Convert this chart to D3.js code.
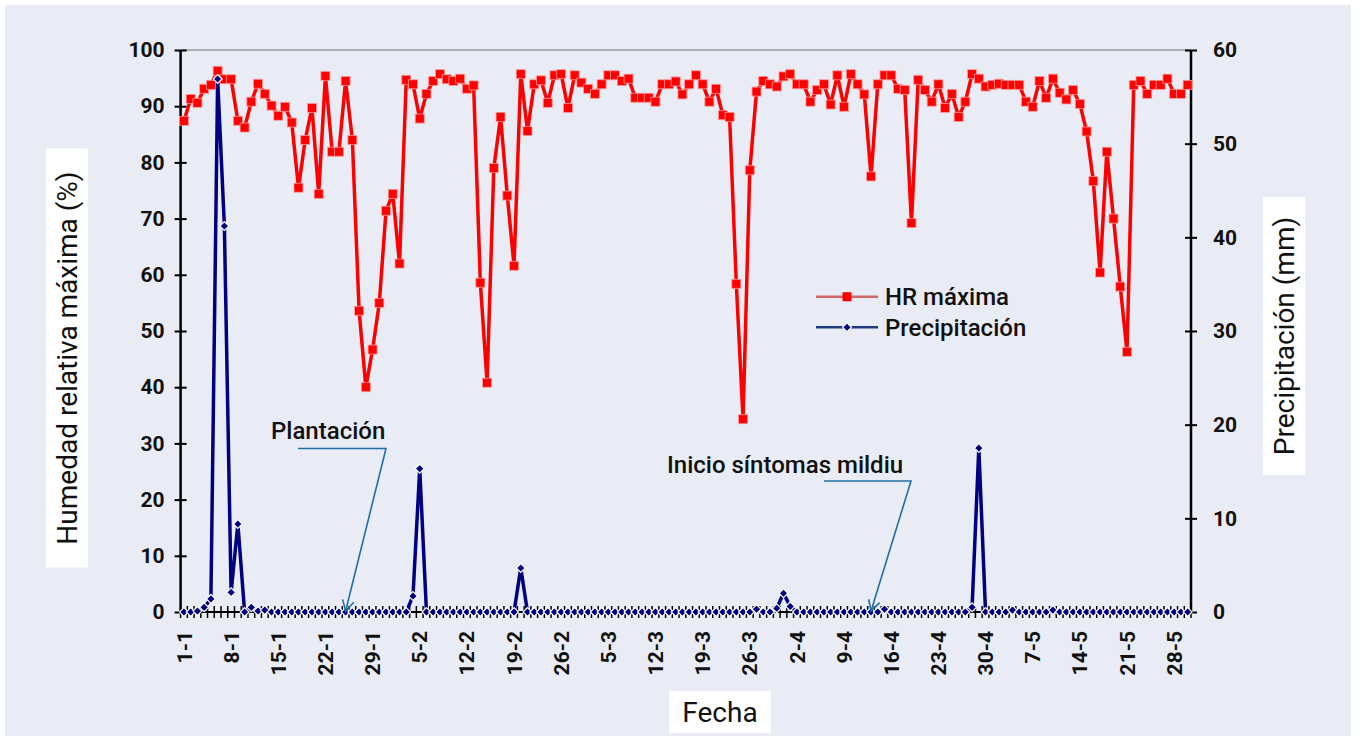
<!DOCTYPE html>
<html>
<head>
<meta charset="utf-8">
<script src="https://cdn.jsdelivr.net/npm/d3@7"></script>
<style>
  body { margin: 0; background: #fff; }
  text { font-family: Roboto, "DejaVu Sans", sans-serif; fill: #111; }
</style>
</head>
<body>
<svg id="chart" width="1359" height="740"></svg>
<script>
// daily categories, 1-1 to 30-5
const days = d3.timeDay.range(new Date(2023, 0, 1), new Date(2023, 4, 31))
const fmt = d3.timeFormat('%-d-%-m')
const categories = days.map(fmt)

const tickLabels = ['1-1', '8-1', '15-1', '22-1', '29-1', '5-2', '12-2', '19-2', '26-2', '5-3', '12-3',
  '19-3', '26-3', '2-4', '9-4', '16-4', '23-4', '30-4', '7-5', '14-5', '21-5', '28-5']

// HR máxima (%)
const hrMax = [
  87.4, 91.3, 90.6, 93.1, 93.8, 96.3, 94.8, 94.8, 87.4, 86.2,
  90.8, 94.0, 92.2, 90.1, 88.3, 89.9, 87.1, 75.5, 84.0, 89.7,
  74.4, 95.4, 81.9, 81.9, 94.5, 84.0, 53.6, 40.0, 46.7, 55.0,
  71.4, 74.4, 62.0, 94.7, 93.9, 87.8, 92.2, 94.5, 95.7, 94.8,
  94.5, 94.9, 93.1, 93.7, 58.6, 40.8, 79.0, 88.1, 74.1, 61.6,
  95.7, 85.6, 93.9, 94.6, 90.6, 95.5, 95.7, 89.7, 95.5, 94.2,
  93.1, 92.2, 93.9, 95.5, 95.5, 94.5, 94.9, 91.5, 91.5, 91.5,
  90.8, 93.9, 93.9, 94.4, 92.1, 93.9, 95.5, 93.9, 90.8, 93.1,
  88.4, 88.1, 58.4, 34.3, 78.6, 92.6, 94.5, 93.9, 93.5, 95.3,
  95.7, 93.9, 93.9, 90.8, 92.9, 93.9, 90.3, 95.5, 89.9, 95.7,
  93.9, 92.1, 77.5, 93.9, 95.5, 95.5, 93.1, 92.9, 69.2, 94.7,
  92.9, 90.8, 93.9, 89.7, 92.2, 88.1, 90.8, 95.7, 94.9, 93.5,
  93.8, 94.0, 93.8, 93.8, 93.8, 90.8, 89.9, 94.5, 91.5, 94.9,
  92.4, 91.2, 92.9, 90.4, 85.5, 76.7, 60.4, 81.9, 70.0, 57.9,
  46.3, 93.8, 94.5, 92.2, 93.8, 93.8, 94.9, 92.2, 92.2, 93.8
]

// Precipitación (mm)
const precip = [
  0, 0, 0.1, 0.5, 1.4, 56.9, 41.2, 2.1, 9.4, 0,
  0.5, 0.1, 0.2, 0, 0, 0, 0, 0, 0, 0,
  0, 0, 0, 0, 0, 0, 0, 0, 0, 0,
  0, 0, 0, 0, 1.7, 15.3, 0, 0, 0, 0,
  0, 0, 0, 0, 0, 0, 0, 0, 0, 0,
  4.7, 0, 0, 0, 0, 0, 0, 0, 0, 0,
  0, 0, 0, 0, 0, 0, 0, 0, 0, 0,
  0, 0, 0, 0, 0, 0, 0, 0, 0, 0,
  0, 0, 0, 0, 0, 0.3, 0, 0, 0.4, 2.0,
  0.6, 0, 0, 0, 0, 0, 0, 0, 0, 0,
  0, 0, 0, 0, 0.3, 0, 0, 0, 0, 0,
  0, 0, 0, 0, 0, 0, 0, 0.5, 17.5, 0,
  0, 0, 0, 0.2, 0, 0, 0, 0, 0, 0.2,
  0, 0, 0, 0, 0, 0, 0, 0, 0, 0,
  0, 0, 0, 0, 0, 0, 0, 0, 0, 0
]

const hrTicks = d3.range(0, 101, 10)
const precipTicks = d3.range(0, 61, 10)

const svg = d3.select('#chart')
const plot = { left: 180.6, right: 1191, top: 50, bottom: 612 }

const x = d3.scaleBand()
  .domain(d3.range(categories.length))
  .range([plot.left, plot.right])
const cx = i => x(i) + x.bandwidth() / 2
const yL = d3.scaleLinear().domain([0, 100]).range([plot.bottom, plot.top])
const yR = d3.scaleLinear().domain([0, 60]).range([plot.bottom, plot.top])

// background
svg.append('rect')
  .attr('x', 5).attr('y', 5)
  .attr('width', 1346).attr('height', 731)
  .attr('fill', '#e9ecf4')

// top border of plot
svg.append('line')
  .attr('x1', plot.left).attr('x2', plot.right)
  .attr('y1', plot.top).attr('y2', plot.top)
  .attr('stroke', '#9a9a9a').attr('stroke-width', 1.5)

// left axis
const gL = svg.append('g')
  .attr('transform', `translate(${plot.left},0)`)
  .call(d3.axisLeft(yL).tickValues(hrTicks).tickSize(6).tickPadding(10))
gL.select('.domain').attr('stroke', '#000').attr('stroke-width', 2.5).attr('d', `M0,${plot.top}V${plot.bottom}`)
gL.selectAll('.tick line').attr('x1', 6).attr('x2', -6).attr('stroke', '#000').attr('stroke-width', 2)
gL.selectAll('.tick text')
  .attr('x', -16)
  .style('font-size', '21px').style('font-weight', 700).style('font-family', 'Roboto')

// right axis
const gR = svg.append('g')
  .attr('transform', `translate(${plot.right},0)`)
  .call(d3.axisRight(yR).tickValues(precipTicks).tickSize(6))
gR.select('.domain').attr('stroke', '#000').attr('stroke-width', 2.5).attr('d', `M0,${plot.top}V${plot.bottom}`)
gR.selectAll('.tick line').attr('x1', -6).attr('x2', 6).attr('stroke', '#000').attr('stroke-width', 2)
gR.selectAll('.tick text')
  .attr('x', 22)
  .style('font-size', '21px').style('font-weight', 700).style('font-family', 'Roboto')

// x axis: line, crossing ticks at category edges, rotated date labels
const gX = svg.append('g').attr('transform', `translate(0,${plot.bottom})`)
gX.append('line')
  .attr('x1', plot.left).attr('x2', plot.right)
  .attr('stroke', '#000').attr('stroke-width', 2)
gX.selectAll('line.edge')
  .data(d3.range(categories.length + 1))
  .join('line')
  .attr('class', 'edge')
  .attr('x1', i => i < categories.length ? x(i) : plot.right)
  .attr('x2', i => i < categories.length ? x(i) : plot.right)
  .attr('y1', -6).attr('y2', 6)
  .attr('stroke', '#000').attr('stroke-width', 1.5)

const gXL = svg.append('g')
  .attr('transform', `translate(0,${plot.bottom})`)
  .call(d3.axisBottom(x)
    .tickValues(tickLabels.map(l => categories.indexOf(l)))
    .tickFormat(i => categories[i])
    .tickSize(0))
gXL.select('.domain').remove()
gXL.selectAll('.tick text')
  .attr('transform', 'rotate(-90)')
  .attr('x', -19).attr('y', 0).attr('dy', '0.36em')
  .attr('text-anchor', 'end')
  .style('font-size', '21px').style('font-weight', 700).style('font-family', 'Roboto')

// HR line + square markers
const hrLine = d3.line().x((d, i) => cx(i)).y(d => yL(d))
svg.append('path')
  .datum(hrMax)
  .attr('d', hrLine)
  .attr('fill', 'none').attr('stroke', '#ff0000').attr('stroke-width', 3.5)
  .attr('stroke-linejoin', 'round')
svg.append('g').selectAll('rect')
  .data(hrMax)
  .join('rect')
  .attr('x', (d, i) => cx(i) - 4.5).attr('y', d => yL(d) - 4.5)
  .attr('width', 9).attr('height', 9)
  .attr('fill', '#ff0000').attr('stroke', '#ff9a9a').attr('stroke-width', 0.8)

// precipitation line + diamond markers
const pLine = d3.line().x((d, i) => cx(i)).y(d => yR(d))
svg.append('path')
  .datum(precip)
  .attr('d', pLine)
  .attr('fill', 'none').attr('stroke', '#000080').attr('stroke-width', 3.5)
  .attr('stroke-linejoin', 'round')
const diamond = d3.symbol().type(d3.symbolDiamond2).size(50)
svg.append('g').selectAll('path')
  .data(precip)
  .join('path')
  .attr('d', diamond)
  .attr('transform', (d, i) => `translate(${cx(i)},${yR(d)})`)
  .attr('fill', '#000080').attr('stroke', '#fff').attr('stroke-width', 1.2)

// legend
const legend = [
  { label: 'HR máxima', line: '#d06868', fill: '#ff0000', shape: 'square', y: 296.7 },
  { label: 'Precipitación', line: '#1f3a7a', fill: '#000080', shape: 'diamond', y: 327.3 }
]
const gLeg = svg.append('g')
legend.forEach(l => {
  gLeg.append('line')
    .attr('x1', 816).attr('x2', 878).attr('y1', l.y).attr('y2', l.y)
    .attr('stroke', l.line).attr('stroke-width', 2.5)
  if (l.shape === 'square') {
    gLeg.append('rect')
      .attr('x', 847 - 4.5).attr('y', l.y - 4.5).attr('width', 9).attr('height', 9)
      .attr('fill', l.fill)
  } else {
    gLeg.append('path')
      .attr('d', diamond)
      .attr('transform', `translate(847,${l.y})`)
      .attr('fill', l.fill).attr('stroke', '#fff').attr('stroke-width', 1.2)
  }
  gLeg.append('text')
    .attr('x', 885).attr('y', l.y).attr('dy', '0.36em')
    .style('font-size', '24px').style('font-weight', 500)
    .text(l.label)
})

// annotations
const arrowColor = '#1f6ea6'
function annotate (label, textX, textY, lineX1, lineX2, lineY, targetIdx) {
  svg.append('text')
    .attr('x', textX).attr('y', textY)
    .style('font-size', '24px').style('font-weight', 500)
    .text(label)
  const tx = cx(targetIdx)
  const ty = plot.bottom - 1
  svg.append('path')
    .attr('d', `M${lineX1},${lineY}H${lineX2}L${tx},${ty}`)
    .attr('fill', 'none').attr('stroke', arrowColor).attr('stroke-width', 1.6)
  const ang = Math.atan2(ty - lineY, tx - lineX2)
  const len = 12
  const spread = 0.5
  const p1 = [tx - len * Math.cos(ang - spread), ty - len * Math.sin(ang - spread)]
  const p2 = [tx - len * Math.cos(ang + spread), ty - len * Math.sin(ang + spread)]
  svg.append('path')
    .attr('d', `M${p1}L${tx},${ty}L${p2}`)
    .attr('fill', 'none').attr('stroke', arrowColor).attr('stroke-width', 1.6)
}
annotate('Plantación', 271, 439, 298, 386, 448.5, categories.indexOf('25-1'))
annotate('Inicio síntomas mildiu', 667, 472.5, 824, 911, 481, categories.indexOf('13-4'))

// axis titles in white boxes
function boxedTitle (label, cxp, cyp, w, h, rotate) {
  const g = svg.append('g').attr('transform', `translate(${cxp},${cyp})${rotate ? ' rotate(-90)' : ''}`)
  g.append('rect')
    .attr('x', -w / 2).attr('y', -h / 2).attr('width', w).attr('height', h)
    .attr('fill', '#fff')
  g.append('text')
    .attr('text-anchor', 'middle').attr('dy', '0.36em')
    .style('font-size', '28px').style('font-weight', 400)
    .text(label)
}
boxedTitle('Humedad relativa máxima (%)', 67, 358, 419, 42, true)
boxedTitle('Precipitación (mm)', 1284, 336, 278, 42, true)
boxedTitle('Fecha', 720, 712, 102, 42, false)
</script>
</body>
</html>
